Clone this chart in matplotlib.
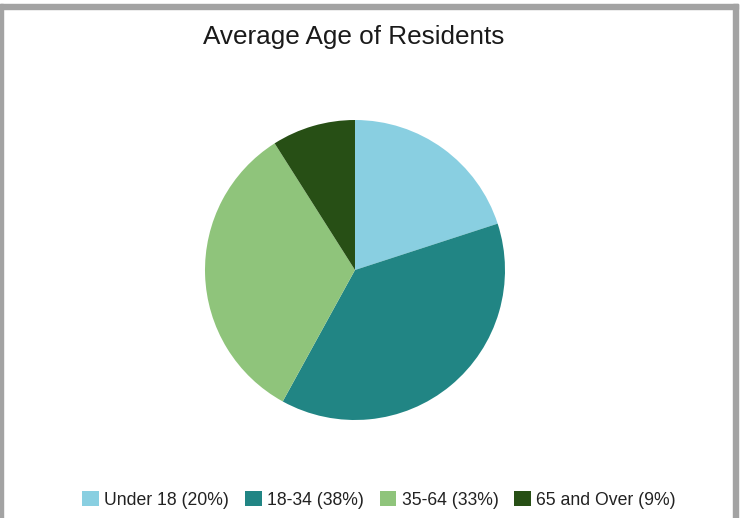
import matplotlib.pyplot as plt
from matplotlib.patches import Rectangle, Patch

# Datos
labels = ['Under 18', '18-34', '35-64', '65 and Over']
shares = [20, 38, 33, 9]
colors = ['#89cfe1', '#218584', '#8fc47b', '#274f15']
title = 'Average Age of Residents'

plt.rcParams['font.family'] = ['Liberation Sans', 'DejaVu Sans']

W, H = 743, 518
fig = plt.figure(figsize=(W / 100, H / 100), dpi=100)

# marco gris (sin borde inferior)
gray = '#a3a3a3'
fig.patches.append(Rectangle((0, 1 - 9 / H), 738 / W, 5 / H, transform=fig.transFigure, color=gray, zorder=0))
fig.patches.append(Rectangle((0, 0), 3 / W, 1 - 4 / H, transform=fig.transFigure, color=gray, zorder=0))
fig.patches.append(Rectangle((733 / W, 0), 5 / W, 1 - 4 / H, transform=fig.transFigure, color=gray, zorder=0))

# pie centrado en (355, 270), radio 150 px
ax = fig.add_axes([(355 - 150) / W, (H - 420) / H, 300 / W, 300 / H])
ax.pie(shares, colors=colors, startangle=90, counterclock=False,
       wedgeprops=dict(linewidth=0))
ax.set_xlim(-1, 1)
ax.set_ylim(-1, 1)
ax.set_aspect('equal')
ax.axis('off')

fig.text(354 / W, 1 - 37 / H, title, ha='center', va='center', fontsize=18.8, color='#1a1a1a')

handles = [Patch(facecolor=c, edgecolor='none') for c in colors]
leg_labels = [f'{l} ({s}%)' for l, s in zip(labels, shares)]
fig.legend(handles, leg_labels, loc='center', bbox_to_anchor=(379 / W, 1 - 500 / H),
           ncol=4, frameon=False, fontsize=12.7, handlelength=0.95, handleheight=0.95,
           handletextpad=0.3, columnspacing=0.9, labelcolor='#222222')

fig.savefig('out.png', dpi=100)
